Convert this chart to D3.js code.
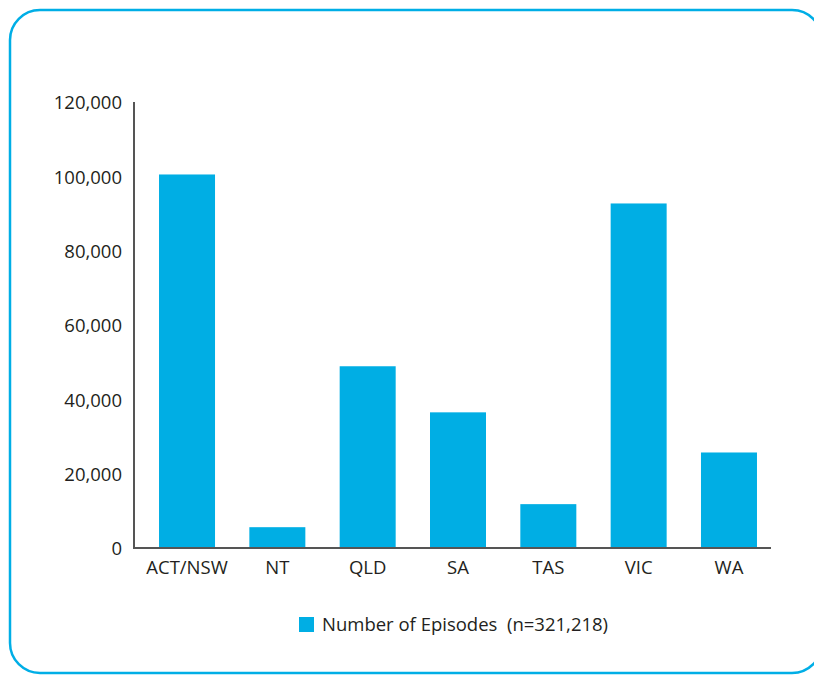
<!DOCTYPE html>
<html>
<head>
<meta charset="utf-8">
<script src="https://cdn.jsdelivr.net/npm/d3@7"></script>
<style>
  html, body { margin: 0; padding: 0; background: #fff; }
  svg { display: block; }
  text { font-family: "Open Sans", "Noto Sans", sans-serif; fill: #231f20; }
</style>
</head>
<body>
<svg id="chart" width="814" height="675"></svg>
<script>
// Episodes by state / territory
const categories = ["ACT/NSW", "NT", "QLD", "SA", "TAS", "VIC", "WA"];
const episodes = [100500, 5600, 48900, 36500, 11800, 92700, 25700];
const yTicks = [0, 20000, 40000, 60000, 80000, 100000, 120000];
const legendLabel = "Number of Episodes  (n=321,218)";

const barColor = "#00aee4";
const svg = d3.select("#chart");

// rounded frame
svg.append("rect")
  .attr("x", 10).attr("y", 10)
  .attr("width", 812).attr("height", 663)
  .attr("rx", 30).attr("ry", 30)
  .attr("fill", "none")
  .attr("stroke", "#00aee6")
  .attr("stroke-width", 2.5);

const x = d3.scaleBand()
  .domain(categories)
  .range([134, 782])
  .paddingInner(0.38)
  .paddingOuter(0.277);

const y = d3.scaleLinear()
  .domain([0, 120000])
  .range([548, 102]);

// bars
svg.append("g")
  .selectAll("rect")
  .data(categories)
  .join("rect")
  .attr("x", d => x(d))
  .attr("width", x.bandwidth())
  .attr("y", (d, i) => y(episodes[i]))
  .attr("height", (d, i) => y(0) - y(episodes[i]))
  .attr("fill", barColor);

// y axis
const yAxis = svg.append("g")
  .attr("transform", "translate(134,0)")
  .call(d3.axisLeft(y).tickValues(yTicks).tickSize(0).tickPadding(12)
    .tickFormat(d3.format(",")));
yAxis.select(".domain").remove();
yAxis.selectAll("text")
  .attr("font-size", 18.5)
  .attr("font-family", null)
  .attr("fill", null)
  .attr("dy", "0.36em");

svg.append("line")
  .attr("x1", 134).attr("x2", 134)
  .attr("y1", y(120000)).attr("y2", y(0) + 1)
  .attr("stroke", "#555").attr("stroke-width", 2);

// x axis
const xAxis = svg.append("g")
  .attr("transform", `translate(0,${y(0)})`)
  .call(d3.axisBottom(x).tickSize(0).tickPadding(13));
xAxis.select(".domain").remove();
xAxis.selectAll("text")
  .attr("font-size", 18.5)
  .attr("font-family", null)
  .attr("fill", null);

svg.append("line")
  .attr("x1", 133).attr("x2", 771)
  .attr("y1", y(0)).attr("y2", y(0))
  .attr("stroke", "#555").attr("stroke-width", 2);

// legend
const legend = svg.append("g").attr("transform", "translate(299,617)");
legend.append("rect")
  .attr("width", 15).attr("height", 15)
  .attr("fill", barColor);
legend.append("text")
  .attr("x", 23).attr("y", 14)
  .attr("font-size", 18.5)
  .attr("xml:space", "preserve")
  .style("white-space", "pre")
  .text(legendLabel);
</script>
</body>
</html>
